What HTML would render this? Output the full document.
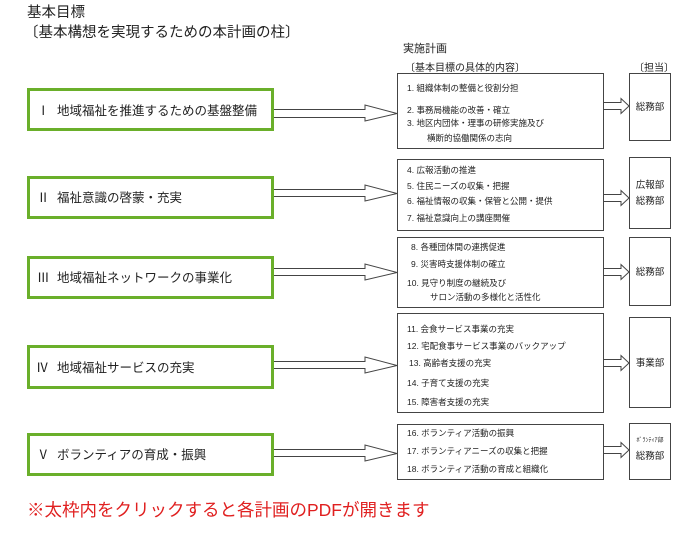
<!DOCTYPE html>
<html><head><meta charset="utf-8"><style>
html,body{margin:0;padding:0;background:#fff;}
svg{display:block;}
text{font-family:"Liberation Sans","Noto Sans CJK JP",sans-serif;fill:#222;}
</style></head><body>
<svg width="687" height="534" viewBox="0 0 687 534" xmlns="http://www.w3.org/2000/svg">
<rect width="687" height="534" fill="#fff"/>
<text x="27" y="17" font-size="14.5">基本目標</text>
<text x="24" y="37" font-size="14.5">〔基本構想を実現するための本計画の柱〕</text>
<text x="403" y="52" font-size="11">実施計画</text>
<text x="405" y="71" font-size="10">〔基本目標の具体的内容〕</text>
<text x="634" y="71" font-size="10">〔担当〕</text>

<g fill="#fff" stroke="#6aaf2a" stroke-width="3">
<rect x="28.5" y="89.5" width="244" height="40"/>
<rect x="28.5" y="177.5" width="244" height="40"/>
<rect x="28.5" y="257.5" width="244" height="40"/>
<rect x="28.5" y="346.5" width="244" height="41"/>
<rect x="28.5" y="434.5" width="244" height="40"/>
</g>
<g font-size="12.5">
<text x="37" y="115">Ⅰ</text><text x="57" y="115">地域福祉を推進するための基盤整備</text>
<text x="37" y="202">Ⅱ</text><text x="57" y="202">福祉意識の啓蒙・充実</text>
<text x="37" y="282">Ⅲ</text><text x="57" y="282">地域福祉ネットワークの事業化</text>
<text x="36" y="372">Ⅳ</text><text x="57" y="372">地域福祉サービスの充実</text>
<text x="37" y="459">Ⅴ</text><text x="57" y="459">ボランティアの育成・振興</text>
</g>

<g fill="#fff" stroke="#444" stroke-width="1">
<path d="M274 109.5H365V105L397 113.5L365 121V117.5H274"/>
<path d="M274 189.5H365V185L397 193.5L365 201V196.5H274"/>
<path d="M274 268.5H365V264L397 272.5L365 280V275.5H274"/>
<path d="M274 361.5H365V357L397 365.5L365 373V368.5H274"/>
<path d="M274 449.5H365V445L397 453.5L365 461V456.5H274"/>
<rect x="397.5" y="73.5" width="206" height="75"/>
<rect x="397.5" y="159.5" width="206" height="71"/>
<rect x="397.5" y="237.5" width="206" height="70"/>
<rect x="397.5" y="313.5" width="206" height="99"/>
<rect x="397.5" y="424.5" width="206" height="55"/>
<rect x="629.5" y="73.5" width="41" height="67"/>
<rect x="629.5" y="157.5" width="41" height="71"/>
<rect x="629.5" y="237.5" width="41" height="68"/>
<rect x="629.5" y="317.5" width="41" height="90"/>
<rect x="629.5" y="423.5" width="41" height="56"/>
<path d="M604 102.5H621V98.5L629 106L621 113.5V109.5H604"/>
<path d="M604 194.5H621V190.5L629 198L621 205.5V201.5H604"/>
<path d="M604 268.5H621V264.5L629 272L621 279.5V275.5H604"/>
<path d="M604 359.5H621V355.5L629 363L621 370.5V366.5H604"/>
<path d="M604 446.5H621V442.5L629 450L621 457.5V453.5H604"/>
</g>

<g font-size="8.5">
<text x="407" y="91">1. 組織体制の整備と役割分担</text>
<text x="407" y="113">2. 事務局機能の改善・確立</text>
<text x="407" y="126">3. 地区内団体・理事の研修実施及び</text>
<text x="427" y="141">横断的協働関係の志向</text>
<text x="407" y="173">4. 広報活動の推進</text>
<text x="407" y="189">5. 住民ニーズの収集・把握</text>
<text x="407" y="204">6. 福祉情報の収集・保管と公開・提供</text>
<text x="407" y="221">7. 福祉意識向上の講座開催</text>
<text x="411" y="250">8. 各種団体間の連携促進</text>
<text x="411" y="267">9. 災害時支援体制の確立</text>
<text x="407" y="286">10. 見守り制度の継続及び</text>
<text x="430" y="300">サロン活動の多様化と活性化</text>
<text x="407" y="332">11. 会食サービス事業の充実</text>
<text x="407" y="349">12. 宅配食事サービス事業のバックアップ</text>
<text x="409" y="366">13. 高齢者支援の充実</text>
<text x="407" y="386">14. 子育て支援の充実</text>
<text x="407" y="405">15. 障害者支援の充実</text>
<text x="407" y="436">16. ボランティア活動の振興</text>
<text x="407" y="454">17. ボランティアニーズの収集と把握</text>
<text x="407" y="472">18. ボランティア活動の育成と組織化</text>
</g>
<g font-size="9.5" text-anchor="middle">
<text x="650" y="110">総務部</text>
<text x="650" y="188">広報部</text>
<text x="650" y="204">総務部</text>
<text x="650" y="275">総務部</text>
<text x="650" y="366">事業部</text>
<text x="650" y="442" font-size="6">ﾎﾞﾗﾝﾃｨｱ部</text>
<text x="650" y="459">総務部</text>
</g>
<text x="27" y="516" font-size="17.5" style="fill:#e02020">※太枠内をクリックすると各計画のPDFが開きます</text>
</svg>
</body></html>
